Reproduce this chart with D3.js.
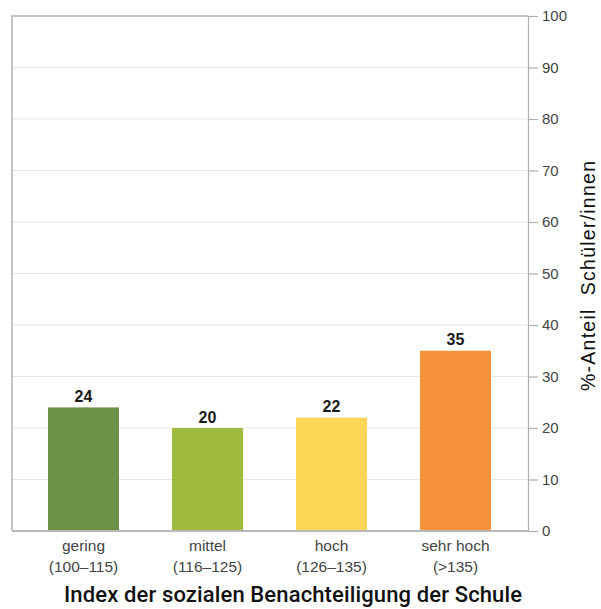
<!DOCTYPE html>
<html>
<head>
<meta charset="utf-8">
<script src="https://cdn.jsdelivr.net/npm/d3@7"></script>
<style>
  html, body { margin: 0; padding: 0; background: #fff; }
  svg { display: block; font-family: "Liberation Sans", Arial, Helvetica, sans-serif; }
</style>
</head>
<body>
<svg id="chart" width="601" height="609"></svg>
<script>
const categories = ["gering", "mittel", "hoch", "sehr hoch"];
const ranges = ["(100–115)", "(116–125)", "(126–135)", "(>135)"];
const values = [24, 20, 22, 35];
const colors = ["#6e9148", "#9fba3c", "#fdd557", "#f6923a"];
const yTicks = [0, 10, 20, 30, 40, 50, 60, 70, 80, 90, 100];
const yTitle = "%-Anteil  Schüler/innen";
const xTitle = "Index der sozialen Benachteiligung der Schule";

const svg = d3.select("#chart");
const frameLeft = 12, frameRight = 528, plotTop = 16, plotBottom = 531;

const x = d3.scaleBand()
  .domain(categories)
  .range([21.5, 517.5])
  .paddingInner(0.427)
  .paddingOuter(0.2135);

const y = d3.scaleLinear().domain([0, 100]).range([plotBottom, plotTop]);

// gridlines
svg.append("g").selectAll("line")
  .data(yTicks.filter(d => d > 0 && d < 100))
  .join("line")
  .attr("x1", frameLeft).attr("x2", frameRight)
  .attr("y1", d => y(d)).attr("y2", d => y(d))
  .attr("stroke", "#e6e6e6").attr("stroke-width", 1);

// frame: top and left
svg.append("line").attr("x1", frameLeft).attr("x2", frameRight)
  .attr("y1", plotTop).attr("y2", plotTop).attr("stroke", "#c4c4c4").attr("stroke-width", 2);
svg.append("line").attr("x1", frameLeft).attr("x2", frameLeft)
  .attr("y1", plotTop - 1).attr("y2", plotBottom).attr("stroke", "#c4c4c4").attr("stroke-width", 2);

// bars
svg.append("g").selectAll("rect")
  .data(values)
  .join("rect")
  .attr("x", (d, i) => x(categories[i]))
  .attr("width", x.bandwidth())
  .attr("y", d => y(d))
  .attr("height", d => y(0) - y(d))
  .attr("fill", (d, i) => colors[i]);

// bottom line
svg.append("line").attr("x1", frameLeft).attr("x2", frameRight)
  .attr("y1", plotBottom).attr("y2", plotBottom).attr("stroke", "#b8b8b8").attr("stroke-width", 2);

// value labels
svg.append("g").selectAll("text")
  .data(values)
  .join("text")
  .attr("x", (d, i) => x(categories[i]) + x.bandwidth() / 2)
  .attr("y", d => y(d) - 5.5)
  .attr("text-anchor", "middle")
  .attr("font-size", 16)
  .attr("font-weight", "bold")
  .attr("fill", "#1a1a1a")
  .text(d => d);

// right axis
const yAxis = d3.axisRight(y).tickValues(yTicks).tickSize(10).tickPadding(4);
const ga = svg.append("g").attr("transform", `translate(${frameRight},0)`).call(yAxis);
ga.select(".domain").attr("stroke", "#b0b0b0").attr("stroke-width", 1.2)
  .attr("d", `M0.5,${plotTop}V${plotBottom}`);
ga.selectAll(".tick line").attr("stroke", "#b0b0b0").attr("stroke-width", 1.2);
ga.selectAll(".tick text").attr("fill", "#444").attr("font-size", 15)
  .attr("font-family", "Liberation Sans, Arial, sans-serif");

// x labels
const xl = svg.append("g");
categories.forEach((c, i) => {
  const cx = x(c) + x.bandwidth() / 2;
  xl.append("text").attr("x", cx).attr("y", 551).attr("text-anchor", "middle")
    .attr("font-size", 15.5).attr("fill", "#444").text(c);
  xl.append("text").attr("x", cx).attr("y", 572).attr("text-anchor", "middle")
    .attr("font-size", 15.5).attr("fill", "#444").text(ranges[i]);
});

// x title
svg.append("text").attr("x", 293).attr("y", 602).attr("text-anchor", "middle")
  .attr("font-family", "Roboto, 'Liberation Sans', sans-serif")
  .attr("font-weight", 500)
  .attr("font-size", 22).attr("fill", "#111")
  .attr("textLength", 458).attr("lengthAdjust", "spacing")
  .text(xTitle);

// y title
svg.append("text")
  .attr("transform", "translate(595,276) rotate(-90)")
  .attr("text-anchor", "middle")
  .attr("font-size", 19.5).attr("fill", "#111")
  .attr("textLength", 230).attr("lengthAdjust", "spacing")
  .style("white-space", "pre")
  .text(yTitle);
</script>
</body>
</html>
